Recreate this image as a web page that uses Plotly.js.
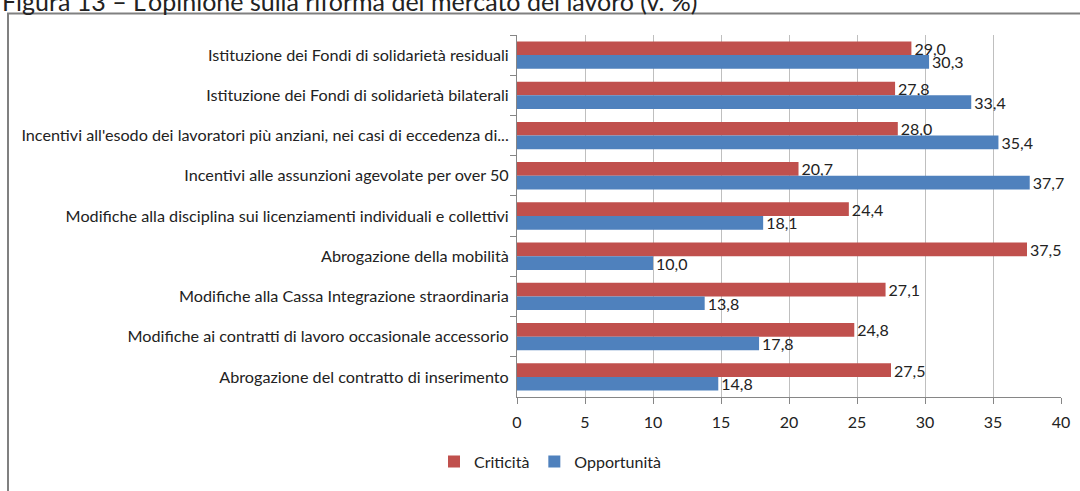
<!DOCTYPE html>
<html>
<head>
<meta charset="utf-8">
<script src="https://cdn.plot.ly/plotly-3.0.1.min.js"></script>
<style>html,body{margin:0;padding:0;background:#fff;}#chart{width:1080px;height:491px;}</style>
</head>
<body>
<div id="chart"></div>
<script>
var categories = [
  "Istituzione dei Fondi di solidarietà residuali",
  "Istituzione dei Fondi di solidarietà bilaterali",
  "Incentivi all'esodo dei lavoratori più anziani, nei casi di eccedenza di...",
  "Incentivi alle assunzioni agevolate per over 50",
  "Modifiche alla disciplina sui licenziamenti individuali e collettivi",
  "Abrogazione della mobilità",
  "Modifiche alla Cassa Integrazione straordinaria",
  "Modifiche ai contratti di lavoro occasionale accessorio",
  "Abrogazione del contratto di inserimento"
];
var criticita = [29.0, 27.8, 28.0, 20.7, 24.4, 37.5, 27.1, 24.8, 27.5];
var opportunita = [30.3, 33.4, 35.4, 37.7, 18.1, 10.0, 13.8, 17.8, 14.8];
var xTicks = [0, 5, 10, 15, 20, 25, 30, 35, 40];
var titleText = "Figura 13 – L'opinione sulla riforma del mercato del lavoro (v. %)";

var FONT = "Lato, 'Open Sans', sans-serif";
var ml = 517, mr = 19, mt = 35, mb = 86, W = 1080, H = 491;
var pw = W - ml - mr, ph = H - mt - mb;
function px2x(p){ return (p - ml) / pw; }
function py2y(p){ return (H - mb - p) / ph; }

var traces = [
  {type:'bar', orientation:'h', name:'Criticità', y:categories, x:criticita,
   marker:{color:'#C0504D'}, text:criticita, texttemplate:'%{x:.1f}',
   textposition:'outside', constraintext:'none', cliponaxis:false,
   textfont:{size:16, color:'#222'}},
  {type:'bar', orientation:'h', name:'Opportunità', y:categories, x:opportunita,
   marker:{color:'#4F81BD'}, text:opportunita, texttemplate:'%{x:.1f}',
   textposition:'outside', constraintext:'none', cliponaxis:false,
   textfont:{size:16, color:'#222'}}
];

var layout = {
  width: W, height: H,
  margin: {l: ml, r: mr, t: mt, b: mb, pad: 0},
  paper_bgcolor: '#fff', plot_bgcolor: '#fff',
  font: {family: FONT, size: 16, color: '#222'},
  separators: ',.',
  barmode: 'group', bargap: 0.32, bargroupgap: 0,
  showlegend: true,
  legend: {orientation: 'h', x: px2x(434), xanchor: 'left', y: py2y(471), yanchor: 'middle',
           font: {size: 16, color: '#222'}, traceorder: 'normal', itemwidth: 30},
  xaxis: {range: [0, 40], tickvals: xTicks, ticktext: xTicks.map(String),
          showgrid: true, gridcolor: '#BFBFBF', gridwidth: 1, zeroline: false,
          showline: true, linecolor: '#868686', linewidth: 1,
          ticks: 'outside', ticklen: 6, tickcolor: '#868686', ticklabelstandoff: 5,
          tickfont: {size: 16, color: '#222'}, fixedrange: true},
  yaxis: {autorange: 'reversed', type: 'category',
          showline: true, linecolor: '#868686', linewidth: 1,
          ticks: 'outside', ticklen: 6, tickcolor: '#868686', tickson: 'boundaries',
          showgrid: false, zeroline: false,
          tickfont: {size: 16.2, color: '#222'}, ticklabelstandoff: 4},
  shapes: [{type: 'rect', xref: 'paper', yref: 'paper',
            x0: px2x(8), x1: px2x(1100), y0: py2y(520), y1: py2y(13),
            line: {color: '#808080', width: 2}, fillcolor: 'rgba(0,0,0,0)', layer: 'below'}],
  annotations: [{text: titleText, xref: 'paper', yref: 'paper',
                 x: px2x(0), xanchor: 'left', y: py2y(0), yanchor: 'middle',
                 showarrow: false, font: {size: 25, color: '#222', family: FONT}}]
};

Plotly.newPlot('chart', traces, layout, {displayModeBar: false, staticPlot: true});
</script>
</body>
</html>
